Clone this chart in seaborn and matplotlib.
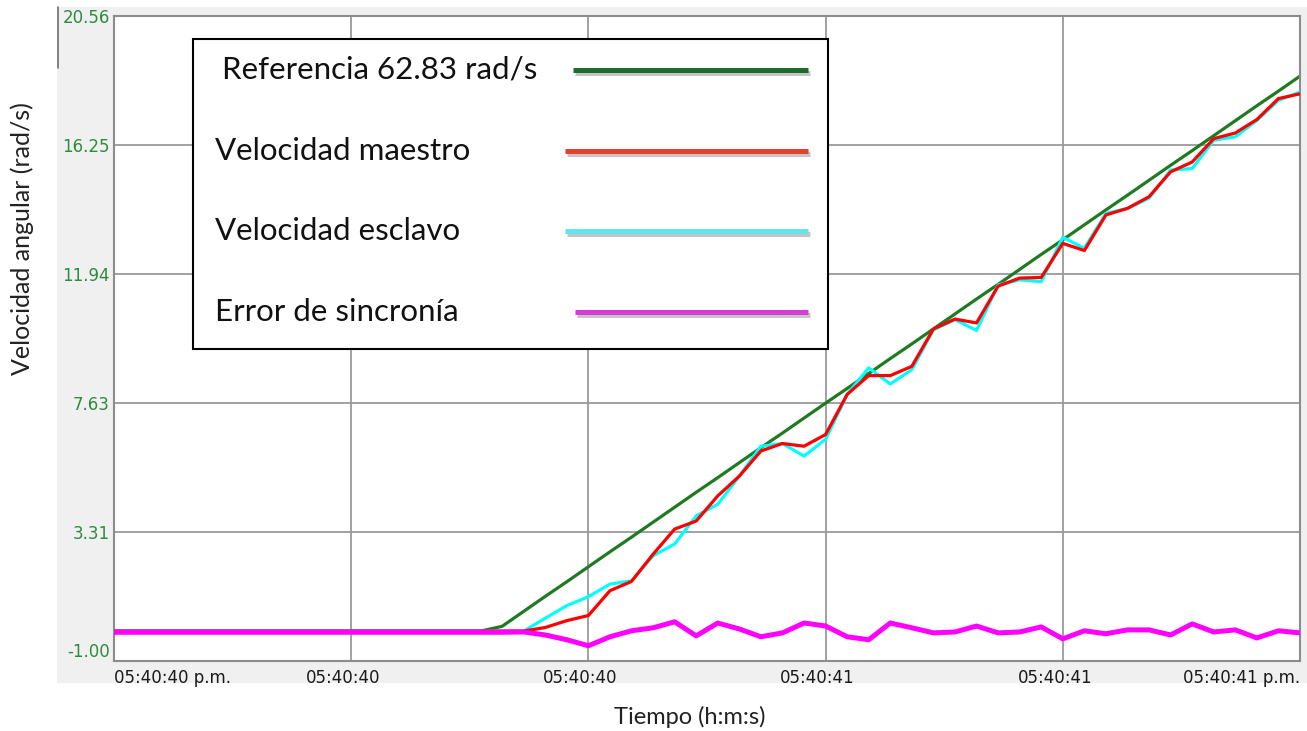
import matplotlib
matplotlib.use("Agg")
import matplotlib.pyplot as plt
import matplotlib.patheffects as pe
from matplotlib.patches import Rectangle
from matplotlib.lines import Line2D
from matplotlib.transforms import ScaledTranslation
import pandas as pd
import seaborn as sns

W, H = 1307, 731

# acquisition samples (evenly spaced) and axis labels
sample = list(range(56))
x_ticks = [0, 11, 22, 33, 44, 55]
x_labels = ["05:40:40 p.m.", "05:40:40", "05:40:40", "05:40:41", "05:40:41", "05:40:41 p.m."]
y_ticks = [-1.00, 3.31, 7.63, 11.94, 16.25, 20.56]

# values (rad/s)
referencia = [
    0.0, 0.0, 0.0, 0.0, 0.0, 0.0, 0.0, 0.0,
    0.0, 0.0, 0.0, 0.0, 0.0, 0.0, 0.0, 0.0,
    0.0, 0.0, 0.16, 0.66, 1.16, 1.65, 2.15, 2.65,
    3.14, 3.64, 4.14, 4.64, 5.13, 5.63, 6.13, 6.62,
    7.12, 7.62, 8.11, 8.61, 9.11, 9.60, 10.10, 10.60,
    11.10, 11.59, 12.09, 12.59, 13.08, 13.58, 14.08, 14.57,
    15.07, 15.57, 16.06, 16.56, 17.06, 17.56, 18.05, 18.55,
]
maestro = [
    0.0, 0.0, 0.0, 0.0, 0.0, 0.0, 0.0, 0.0,
    0.0, 0.0, 0.0, 0.0, 0.0, 0.0, 0.0, 0.0,
    0.0, 0.0, 0.0, 0.0, 0.12, 0.35, 0.52, 1.35,
    1.66, 2.57, 3.41, 3.68, 4.52, 5.18, 6.02, 6.27,
    6.18, 6.57, 7.91, 8.54, 8.54, 8.85, 10.10, 10.43,
    10.30, 11.53, 11.80, 11.82, 12.96, 12.72, 13.91, 14.13,
    14.52, 15.35, 15.68, 16.46, 16.65, 17.10, 17.80, 17.96,
]
esclavo = [
    0.0, 0.0, 0.0, 0.0, 0.0, 0.0, 0.0, 0.0,
    0.0, 0.0, 0.0, 0.0, 0.0, 0.0, 0.0, 0.0,
    0.0, 0.0, 0.0, 0.0, 0.43, 0.85, 1.15, 1.57,
    1.68, 2.52, 2.91, 3.85, 4.24, 5.18, 6.18, 6.27,
    5.85, 6.41, 7.91, 8.80, 8.26, 8.74, 10.07, 10.41,
    10.05, 11.57, 11.74, 11.68, 13.16, 12.80, 13.96, 14.13,
    14.47, 15.41, 15.46, 16.41, 16.52, 17.07, 17.74, 18.02,
]
error = [
    -0.04, -0.04, -0.04, -0.04, -0.04, -0.04, -0.04, -0.04,
    -0.04, -0.04, -0.04, -0.04, -0.04, -0.04, -0.04, -0.04,
    -0.04, -0.04, -0.04, -0.03, -0.13, -0.29, -0.49, -0.19,
    0.01, 0.11, 0.31, -0.16, 0.27, 0.07, -0.19, -0.06,
    0.27, 0.17, -0.19, -0.29, 0.27, 0.11, -0.06, -0.03,
    0.17, -0.06, -0.03, 0.14, -0.26, 0.01, -0.09, 0.04,
    0.04, -0.13, 0.24, -0.03, 0.04, -0.23, 0.01, -0.06,
]

df = pd.DataFrame({"sample": sample, "referencia": referencia, "maestro": maestro,
                   "esclavo": esclavo, "error": error})

sns.set_style("white")
plt.rcParams["font.family"] = ["Lato", "DejaVu Sans"]

fig = plt.figure(figsize=(W / 100, H / 100), dpi=100, facecolor="white")


def fx(px):
    return px / W


def fy(py):
    return 1 - py / H


# grey window panel behind the chart
fig.patches.append(Rectangle((fx(57), fy(683)), fx(1307) - fx(57), fy(7) - fy(683),
                             transform=fig.transFigure, facecolor="#f0f0f0",
                             edgecolor="none", zorder=-5))
fig.add_artist(Line2D([fx(57.5), fx(57.5)], [fy(7), fy(68)], color="#6e6e6e", lw=1.2, zorder=-4))

ax = fig.add_axes([fx(114), fy(661), fx(1300) - fx(114), fy(16) - fy(661)])
ax.set_zorder(1)
ax.set_facecolor("white")

sns.lineplot(data=df, x="sample", y="referencia", color="#1f7a22", lw=2.3, ax=ax, zorder=2)
sns.lineplot(data=df, x="sample", y="esclavo", color="#00ffff", lw=2.3, ax=ax, zorder=3)
sns.lineplot(data=df, x="sample", y="maestro", color="#ff0000", lw=2.3, ax=ax, zorder=4)
sns.lineplot(data=df, x="sample", y="error", color="#ff00ff", lw=3.6, ax=ax, zorder=5)

ax.set_xlim(0, 55)
ax.set_ylim(-1.00, 20.56)
ax.set_xticks(x_ticks)
ax.set_xticklabels(x_labels, fontsize=12, color="#1a1a1a", family="DejaVu Sans")
ax.set_yticks(y_ticks)
ax.set_yticklabels([f"{v:.2f}" for v in y_ticks], fontsize=12, color="#2e8b3e",
                   family="DejaVu Sans")
ax.tick_params(axis="both", length=0)
ax.tick_params(axis="x", pad=6)
ax.tick_params(axis="y", pad=3)

ax.grid(True, color="#9a9a9a", lw=1.3)
ax.set_axisbelow(True)
for s in ax.spines.values():
    s.set_color("#8c8c8c")
    s.set_linewidth(1.5)

# tick label placement like the original software
xl = ax.get_xticklabels()
xl[0].set_ha("left")
xl[-1].set_ha("right")
shift = ScaledTranslation(-8 / 100, 0, fig.dpi_scale_trans)
for lab in xl[1:-1]:
    lab.set_transform(lab.get_transform() + shift)
yl = ax.get_yticklabels()
yl[0].set_va("bottom")

ax.set_xlabel("Tiempo (h:m:s)", fontsize=17, color="#222222", va="center")
ax.xaxis.set_label_coords((690 - 114) / 1186, (661 - 717) / 645)
ax.set_ylabel("Velocidad angular (rad/s)", fontsize=18, color="#222222", va="center")
ax.yaxis.set_label_coords((22 - 114) / 1186, (661 - 239) / 645)

# legend box drawn as in the original figure
fig.add_artist(Rectangle((fx(193), fy(349)), fx(828) - fx(193), fy(39) - fy(349),
                         transform=fig.transFigure, facecolor="white",
                         edgecolor="black", lw=1.5, zorder=10))
entries = [
    ("Referencia 62.83 rad/s", 222, 70, "#1f6b2e", 573),
    ("Velocidad maestro", 215, 151, "#e4412f", 565),
    ("Velocidad esclavo", 215, 231, "#62e3ee", 565),
    ("Error de sincronía", 215, 312, "#d63cd6", 575),
]
for label, tx, ty, col, lx in entries:
    fig.text(fx(tx), fy(ty), label, fontsize=22.5, color="#111111", va="center", zorder=11)
    fig.add_artist(Line2D([fx(lx), fx(808)], [fy(ty), fy(ty)], color=col, lw=3.6,
                          solid_capstyle="butt", zorder=11,
                          path_effects=[pe.SimpleLineShadow(offset=(1.5, -2), shadow_color="#808080", alpha=0.45),
                                        pe.Normal()]))

fig.savefig("out.png", dpi=100)
